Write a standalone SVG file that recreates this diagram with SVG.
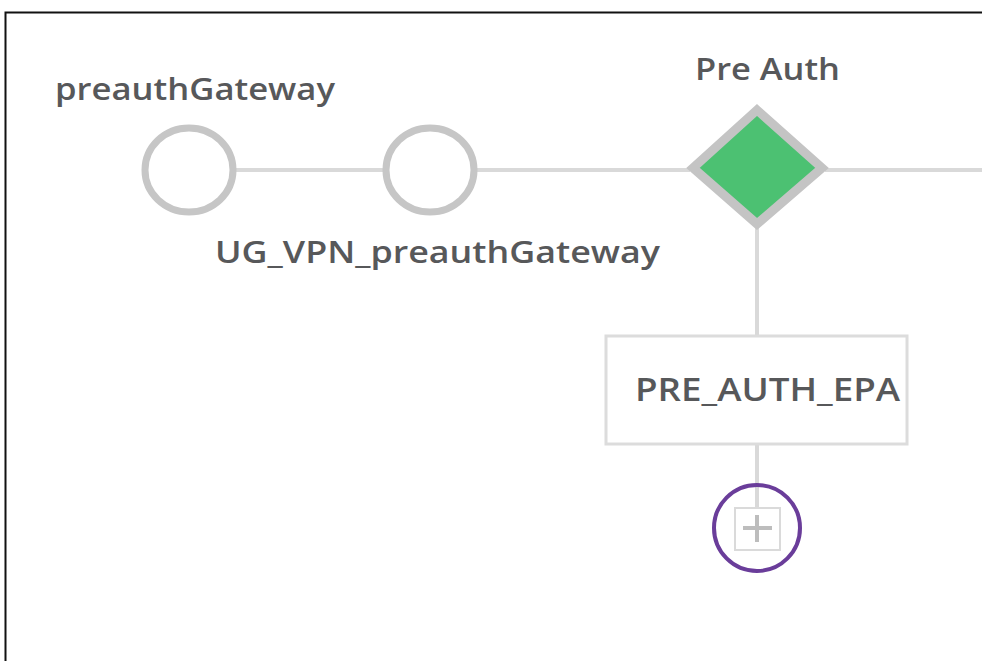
<svg xmlns="http://www.w3.org/2000/svg" width="982" height="661" viewBox="0 0 982 661">
<style>
.lbl{font-family:"Open Sans","Liberation Sans",sans-serif;font-weight:600;fill:#57585a}
.conn{stroke:#d9d9d9;stroke-width:4;fill:none}
.evt{fill:#fff;stroke:#c6c6c6;stroke-width:7}
</style>
<rect x="0" y="0" width="982" height="661" fill="#fff"/>
<path d="M5.5 661 V12.5 H982" fill="none" stroke="#111" stroke-width="2"/>
<g id="connectors">
<line class="conn" x1="236" y1="170" x2="383" y2="170"/>
<line class="conn" x1="477" y1="170" x2="690" y2="170"/>
<line class="conn" x1="825" y1="170" x2="982" y2="170"/>
<line class="conn" x1="757" y1="227" x2="757" y2="335"/>
<line class="conn" x1="757" y1="445" x2="757" y2="508"/>
</g>
<g id="preauthGateway">
<ellipse class="evt" cx="189" cy="170" rx="44" ry="42"/>
<text class="lbl" x="55" y="100" font-size="30" textLength="280" lengthAdjust="spacingAndGlyphs">preauthGateway</text>
</g>
<g id="UG_VPN_preauthGateway">
<ellipse class="evt" cx="430" cy="170" rx="44" ry="42"/>
<text class="lbl" x="215" y="263" font-size="31" textLength="445" lengthAdjust="spacingAndGlyphs">UG_VPN_preauthGateway</text>
</g>
<g id="PreAuth">
<polygon points="757,110 822,168 757,224 693,168" fill="#4cc172" stroke="#c4c4c4" stroke-width="9" stroke-linejoin="miter"/>
<text class="lbl" x="695" y="80" font-size="30" textLength="145" lengthAdjust="spacingAndGlyphs">Pre Auth</text>
</g>
<g id="PRE_AUTH_EPA">
<rect x="606" y="336" width="301" height="108" fill="#fff" stroke="#dcdcdc" stroke-width="3"/>
<text class="lbl" x="635" y="401" font-size="33" textLength="265" lengthAdjust="spacingAndGlyphs">PRE_AUTH_EPA</text>
</g>
<g id="addButton">
<circle cx="757" cy="528" r="43" fill="none" stroke="#6a3d9a" stroke-width="4"/>
<rect x="735" y="508" width="45" height="42" fill="#fff" stroke="#dadada" stroke-width="2"/>
<path d="M743 528 H772 M757 515 V542" stroke="#bdbdbd" stroke-width="4"/>
</g>
</svg>
